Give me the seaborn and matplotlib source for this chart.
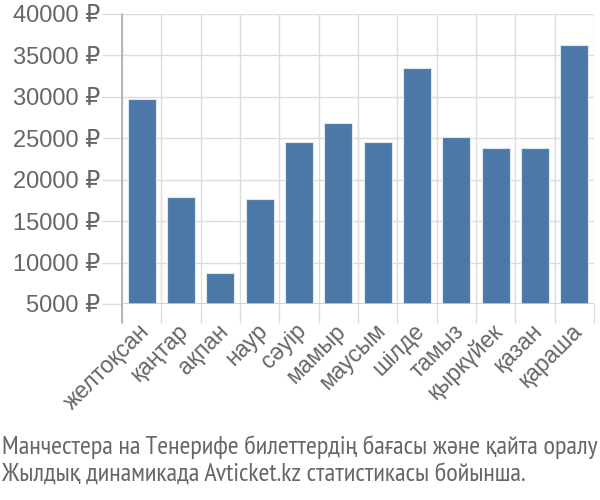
import matplotlib
matplotlib.use("Agg")
import matplotlib.pyplot as plt
import matplotlib.transforms as mtrans
import seaborn as sns
import pandas as pd
from matplotlib import font_manager as fm
from matplotlib.ticker import FixedLocator

months = ["желтоқсан", "қаңтар", "ақпан", "наур", "сәуір", "мамыр",
          "маусым", "шілде", "тамыз", "қыркүйек", "қазан", "қараша"]
prices = [29800, 17900, 8780, 17630, 24550, 26800,
          24550, 33480, 25200, 23870, 23870, 36300]
yticks = [5000, 10000, 15000, 20000, 25000, 30000, 35000, 40000]
caption = ["Манчестера на Тенерифе билеттердің бағасы және қайта оралу",
           "Жылдық динамикада Avticket.kz статистикасы бойынша."]

sns.set_theme(style="white")
plt.rcParams["font.family"] = ["Liberation Sans", "DejaVu Sans"]

TXT = "#666666"
GRID = "#dcdcdc"
PX = 0.72  # points per pixel at 100 dpi


def supports(fname, text):
    try:
        from fontTools.ttLib import TTFont
        cmap = TTFont(fname, lazy=True).getBestCmap()
        return all(ord(c) in cmap for c in set(text))
    except Exception:
        return False


def pick_caption_font(fig, text, target_px, size):
    cands = ["Roboto Condensed", "PT Sans Narrow", "Open Sans Condensed",
             "Fira Sans Condensed", "IBM Plex Sans Condensed", "Archivo Narrow",
             "Encode Sans Condensed", "Barlow Semi Condensed"]
    r = fig.canvas.get_renderer()
    best = None
    for f in cands:
        try:
            path = fm.findfont(fm.FontProperties(family=f), fallback_to_default=False)
        except Exception:
            continue
        if not supports(path, text):
            continue
        t = fig.text(0, 0, text, fontsize=size, family=[f])
        w = t.get_window_extent(r).width
        t.remove()
        err = abs(w - target_px)
        if best is None or err < best[1]:
            best = (f, err, w)
    if best is None:
        return "Liberation Sans", size
    return best[0], size * target_px / best[2]


df = pd.DataFrame({"month": months, "price": prices})

fig = plt.figure(figsize=(6, 5), dpi=100)
ax = fig.add_axes([122/600, 1-304/500, (594-122)/600, (304-14)/500])
sns.barplot(data=df, x="month", y="price", color="#4C78A8", saturation=1,
            width=0.72, edgecolor="#dfe7f0", linewidth=0.8, ax=ax, zorder=3)
ax.set_ylim(5000, 40000)
ax.set_xlim(-0.5, len(months) - 0.5)
ax.set_yticks(yticks)
ax.set_yticklabels([f"{v} ₽" for v in yticks])
ax.set_xlabel("")
ax.set_ylabel("")
ax.xaxis.set_minor_locator(FixedLocator([i - 0.5 for i in range(len(months) + 1)]))
ax.grid(True, which="minor", axis="x", color=GRID, linewidth=1, zorder=0)
ax.grid(True, which="major", axis="y", color=GRID, linewidth=1, zorder=0)
ax.tick_params(axis="x", which="minor", bottom=True, length=19*PX, color=GRID, width=1)
ax.tick_params(axis="x", which="major", bottom=True, length=0, pad=23.5*PX)
ax.tick_params(axis="y", left=True, length=20*PX, color=GRID, width=1, pad=2*PX,
               labelsize=17, labelcolor=TXT)
shift = mtrans.ScaledTranslation(4/100, 0, fig.dpi_scale_trans)
for lab in ax.get_xticklabels():
    lab.set_rotation(45)
    lab.set_ha("right")
    lab.set_va("center")
    lab.set_rotation_mode("anchor")
    lab.set_fontsize(16.5)
    lab.set_color(TXT)
    lab.set_transform(lab.get_transform() + shift)
for s in ["top", "right", "bottom", "left"]:
    ax.spines[s].set_visible(False)
ax.plot([-0.5, -0.5], [-19/290, 1.0], transform=ax.get_xaxis_transform(), color="#aaaaaa",
        lw=1.2, clip_on=False, zorder=4)
ax.axhline(5000, color="#cccccc", lw=1.2, zorder=4)

cap_fam, cap_size = pick_caption_font(fig, caption[0], 596, 18)
cap_font = [cap_fam, "DejaVu Sans"]
fig.text(2/600, 1-447/500, caption[0], ha="left", va="center", fontsize=cap_size, color=TXT, family=cap_font)
fig.text(2/600, 1-475/500, caption[1], ha="left", va="center", fontsize=cap_size, color=TXT, family=cap_font)
fig.savefig("out.png", dpi=100)
